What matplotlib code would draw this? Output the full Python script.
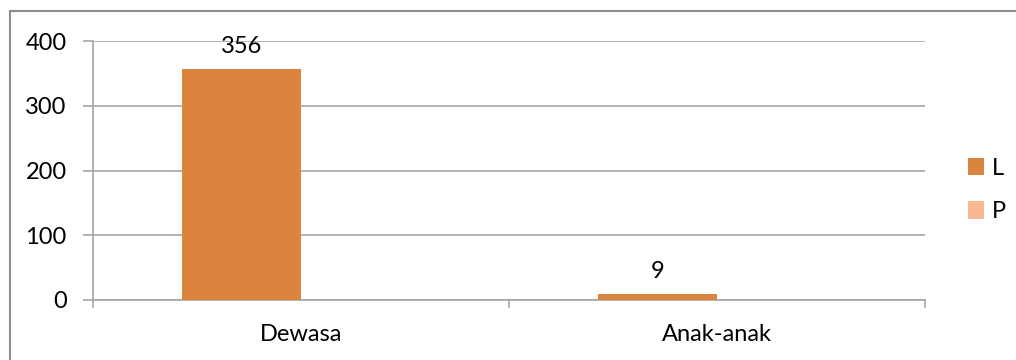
import numpy as np
from matplotlib import pyplot as plt
from matplotlib.patches import Rectangle

# kategori dan nilai tiap seri
categories = ['Dewasa', 'Anak-anak']
L = [356, 9]
P = [0, 0]
series_names = ['L', 'P']
yticks = [0, 100, 200, 300, 400]

col_L = '#DB843D'
col_P = '#F9B893'
grid_col = '#A6A6A6'
fs = 17

plt.rcParams['font.family'] = ['Lato', 'DejaVu Sans']

fig = plt.figure(figsize=(10.16, 3.6), dpi=100)
ax = fig.add_axes([93/1016, 1-300/360, (925-93)/1016, (300-41)/360])

x = np.arange(len(categories))
w = 0.286
bL = ax.bar(x - w/2, L, w, color=col_L, label=series_names[0], zorder=3)
bP = ax.bar(x + w/2, P, w, color=col_P, label=series_names[1], zorder=3)

# label nilai di atas batang L
for rect, v in zip(bL, L):
    ax.annotate(str(v), (rect.get_x() + rect.get_width()/2, v),
                xytext=(0, 9), textcoords='offset points',
                ha='center', va='bottom', fontsize=fs, color='#000000')

ax.set_xlim(-0.5, len(categories) - 0.5)
ax.set_ylim(0, 400)
ax.set_yticks(yticks)
ax.yaxis.grid(True, color=grid_col, linewidth=1.2, zorder=0)
ax.set_axisbelow(True)

ax.set_xticks(x)
ax.set_xticklabels(categories)
ax.tick_params(axis='x', length=0, pad=17, labelsize=fs)
ax.tick_params(axis='y', length=7, width=1.2, color=grid_col, pad=12, labelsize=fs)
# tanda pemisah kategori di sumbu x
for b in np.arange(-0.5, len(categories), 1.0):
    ax.plot([b, b], [0, -0.027], transform=ax.get_xaxis_transform(),
            color=grid_col, lw=1.2, clip_on=False, zorder=4)

for s in ['top', 'right']:
    ax.spines[s].set_visible(False)
ax.spines['left'].set_color(grid_col)
ax.spines['left'].set_linewidth(1.2)
ax.spines['bottom'].set_color(grid_col)
ax.spines['bottom'].set_linewidth(1.2)

fig.legend(handles=[bL, bP], labels=series_names, loc='center left',
           bbox_to_anchor=(968/1016, 1-190/360), frameon=False, borderpad=0,
           borderaxespad=0, fontsize=fs, handlelength=0.68, handleheight=0.78,
           handletextpad=0.35, labelspacing=0.95)

# bingkai grafik
fig.patches.append(Rectangle((10/1016, -0.1), 1.1, (360-11)/360 + 0.1,
                             transform=fig.transFigure, fill=False,
                             edgecolor='#8C8C8C', linewidth=1.5))

fig.savefig('out.png', dpi=100)
